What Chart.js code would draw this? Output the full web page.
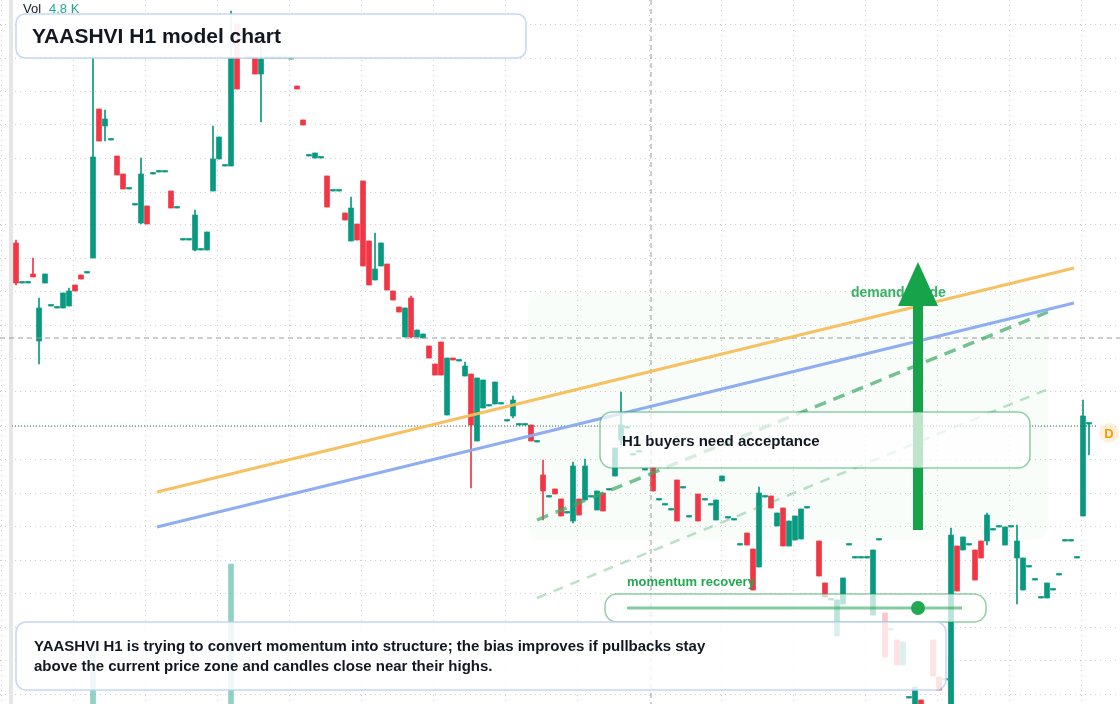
<!DOCTYPE html>
<html>
<head>
<meta charset="utf-8">
<script src="https://cdn.jsdelivr.net/npm/chart.js@4.4.1/dist/chart.umd.min.js"></script>
<style>
  html, body { margin: 0; padding: 0; background: #fff; }
  canvas { display: block; }
</style>
</head>
<body>
<canvas id="chart" width="1120" height="704"></canvas>
<script>
// Price levels are read in screen-level units (axis reversed: larger = lower)
// rows: [time, open, close, high, low]
const candleRows = [
  [16,243,283,240,285],[22,283,283],[28,283,283],[33,274,277,258,277],[39,341,308,298,364],
  [45,283,274],[51,306,306],[57,308,308],[63,308,293],[69,306,291,288,306],[75,285,291],
  [81,275,279],[87,273,273],[93,258,157,55,258],[99,109,141],[105,126,119,110,141],
  [111,140,140],[117,156,175],[123,174,189],[129,189,189],[135,205,205],[141,223,174,158,224],
  [147,206,224],[153,174,174],[159,172,172],[165,172,172],[171,191,208],[177,208,208],
  [183,240,240],[189,240,240],[195,250,215,210,251],[201,250,250],[207,250,232],
  [213,191,159,126,191],[219,159,137],[225,166,166],[231,166,57,11,166],[237,24,89],
  [243,40,40],[249,58,58],[255,58,74],[261,74,59,40,122],[267,58,58],[273,58,58],
  [279,58,58],[285,58,58],[291,59,59],[297,86,89],[303,120,125],[309,156,156],
  [315,158,153],[321,158,158],[327,176,207],[333,191,191],[339,191,191],[345,213,220],
  [351,241,208,197,241],[357,224,240],[363,181,266],[369,241,285],[375,280,269,233,280],
  [381,266,243],[387,264,290],[393,291,300],[399,307,312],[405,337,308],[411,298,337,296,338],
  [417,337,330],[423,338,334],[429,346,358],[435,364,375],[441,342,375],[447,415,358],
  [453,358,360],[459,361,361],[465,376,366,362,376],[471,374,425,374,488],[477,441,378],
  [483,408,380],[489,406,406],[495,404,382],[501,404,404],[507,421,421],[513,416,400,396,418],
  [519,425,425],[525,425,425],[531,425,441],[537,442,442],[543,475,491,460,520],
  [549,497,497],[555,489,494],[561,499,516],[567,513,513],[573,521,466,462,523],
  [579,499,515],[585,500,466,459,500],[591,497,497],[597,510,491],[603,493,511],
  [609,490,490],[615,476,448],[621,440,425,392,445],[627,428,428],[633,455,455],
  [639,452,452],[645,470,470],[653,467,491],[659,500,500],[665,505,505],[671,510,510],
  [677,480,521],[683,488,488],[689,517,517],[698,494,521],[705,500,500],[711,505,505],
  [716,520,500],[722,481,476],[728,518,518],[734,520,520],[740,545,545],[747,533,545],
  [753,549,590],[759,567,493,487,567],[765,497,497],[771,496,508],[777,526,513],
  [783,508,546],[789,546,521],[795,540,516],[801,539,509],[807,508,508],[819,541,576],
  [825,583,597],[831,600,600],[837,636,600],[843,604,578],[849,545,545],[855,558,558],
  [861,558,558],[867,558,558],[873,615,550],[879,540,540],[885,613,657],[891,630,630],
  [897,640,665],[903,665,642],[909,698,698],[915,704,687],[921,700,704],[933,640,676],
  [939,677,690],[945,680,680],[951,704,535,528,704],[957,546,591],[963,550,537],
  [969,545,545],[975,550,580],[981,541,558],[987,541,515,513,545],[993,530,530],
  [999,527,527],[1005,545,527],[1011,527,527],[1017,558,541,525,604],[1023,590,558],
  [1029,567,567],[1035,580,580],[1041,598,598],[1047,598,583],[1053,590,590],
  [1059,575,575],[1065,541,541],[1071,541,541],[1077,558,558],[1083,516,416,400,516],
  [1089,424,424,424,455]
];
const candleTime = candleRows.map(r => r[0]);
const candleOpen = candleRows.map(r => r[1]);
const candleClose = candleRows.map(r => r[2]);
const candleHigh = candleRows.map(r => r[3] !== undefined ? r[3] : Math.min(r[1], r[2]));
const candleLow = candleRows.map(r => r[4] !== undefined ? r[4] : Math.max(r[1], r[2]));

const volumeTime = [93, 231, 951];
const volumeTop = [650, 564, 660];

const orangeLine = [[157, 492], [1074, 268]];
const blueLine = [[157, 527], [1074, 303]];
const greenDash = [[537, 520], [1048, 312]];
const greenDashLight = [[537, 598], [1048, 389]];
const arrowLine = [[918, 530], [918, 300]];
const arrowTip = [918, 262];
const demandZone = { x0: 528, x1: 1048, y0: 292, y1: 540 };
const crossLevel = 338;
const crossTime = 651;
const lastLevel = 426;
const gridTimes = [37, 109, 181, 253, 325, 397, 469, 541, 613, 685, 757, 829, 901, 973, 1045];
const gridLevels = [24, 58, 91, 124, 158, 192, 224, 258, 291, 325, 358, 392, 426, 459, 493, 526, 560, 593, 627, 660, 694];

const UP = '#089981', DOWN = '#f23645';
const colors = candleOpen.map((o, i) => candleClose[i] <= o ? UP : DOWN);
const toXY = pts => pts.map(p => ({ x: p[0], y: p[1] }));

function roundRect(ctx, x, y, w, h, r, fill, stroke, lw) {
  ctx.beginPath();
  ctx.roundRect(x, y, w, h, r);
  ctx.fillStyle = fill; ctx.fill();
  ctx.strokeStyle = stroke; ctx.lineWidth = lw || 1.5; ctx.stroke();
}

const overlay = {
  id: 'overlay',
  beforeDatasetsDraw(chart) {
    const { ctx } = chart;
    const xs = chart.scales.x, ys = chart.scales.y;
    const x0 = xs.getPixelForValue(demandZone.x0), x1 = xs.getPixelForValue(demandZone.x1);
    const y0 = ys.getPixelForValue(demandZone.y0), y1 = ys.getPixelForValue(demandZone.y1);
    ctx.save();
    ctx.fillStyle = 'rgba(34,197,94,0.03)';
    ctx.beginPath(); ctx.roundRect(x0, y0, x1 - x0, y1 - y0, 14); ctx.fill();
    ctx.fillStyle = '#e6e6e6';
    ctx.fillRect(9, 0, 4, 704);
    ctx.restore();
  },
  afterDatasetsDraw(chart) {
    const { ctx } = chart;
    const xs = chart.scales.x, ys = chart.scales.y;
    ctx.save();
    const tx = xs.getPixelForValue(arrowTip[0]), ty = ys.getPixelForValue(arrowTip[1]);
    ctx.font = 'bold 14px "Liberation Sans", Arial, sans-serif';
    ctx.fillStyle = 'rgba(22,163,74,0.85)';
    ctx.textBaseline = 'middle';
    ctx.fillText('demand guide', 851, 293);
    ctx.fillStyle = '#16a34a';
    ctx.beginPath(); ctx.moveTo(tx, ty); ctx.lineTo(tx + 20, ty + 44); ctx.lineTo(tx - 20, ty + 44); ctx.closePath(); ctx.fill();

    // title
    ctx.font = '13px "Liberation Sans", Arial, sans-serif';
    ctx.fillStyle = '#131722'; ctx.fillText('Vol', 23, 9);
    ctx.fillStyle = '#26a69a'; ctx.fillText('4.8 K', 49, 9);
    roundRect(ctx, 16, 14, 510, 44, 9, 'rgba(255,255,255,0.93)', 'rgba(191,210,245,0.9)');
    ctx.fillStyle = '#131722';
    ctx.font = 'bold 21px "Liberation Sans", Arial, sans-serif';
    ctx.fillText('YAASHVI H1 model chart', 32, 37);

    // acceptance box
    roundRect(ctx, 600, 412, 430, 56, 12, 'rgba(255,255,255,0.72)', 'rgba(34,160,80,0.5)');
    ctx.fillStyle = '#131722';
    ctx.font = 'bold 15px "Liberation Sans", Arial, sans-serif';
    ctx.fillText('H1 buyers need acceptance', 622, 442);

    // momentum box
    ctx.font = 'bold 13px "Liberation Sans", Arial, sans-serif';
    ctx.fillStyle = '#22a852';
    ctx.fillText('momentum recovery', 627, 582);
    roundRect(ctx, 605, 594, 381, 28, 12, 'rgba(255,255,255,0.72)', 'rgba(34,160,80,0.5)');
    ctx.strokeStyle = 'rgba(34,160,80,0.55)'; ctx.lineWidth = 3;
    ctx.beginPath(); ctx.moveTo(627, 608); ctx.lineTo(962, 608); ctx.stroke();
    ctx.fillStyle = '#22a852';
    ctx.beginPath(); ctx.arc(918, 608, 7, 0, Math.PI * 2); ctx.fill();

    // bottom note
    roundRect(ctx, 16, 622, 930, 68, 10, 'rgba(255,255,255,0.85)', 'rgba(191,210,245,0.9)');
    ctx.fillStyle = '#131722';
    ctx.font = 'bold 15px "Liberation Sans", Arial, sans-serif';
    ctx.fillText('YAASHVI H1 is trying to convert momentum into structure; the bias improves if pullbacks stay', 34, 647);
    ctx.fillText('above the current price zone and candles close near their highs.', 34, 667);

    // last price marker
    ctx.fillStyle = 'rgba(255,152,0,0.15)';
    ctx.beginPath(); ctx.arc(1109, 433, 10, 0, Math.PI * 2); ctx.fill();
    ctx.fillStyle = '#ff9800';
    ctx.font = 'bold 13px "Liberation Sans", Arial, sans-serif';
    ctx.textAlign = 'center';
    ctx.fillText('D', 1109, 434);
    ctx.restore();
  }
};

const line = (data, color, width, dash, order) => ({
  type: 'line', data: toXY(data), borderColor: color, borderWidth: width,
  borderDash: dash || [], pointRadius: 0, fill: false, order: order
});

new Chart(document.getElementById('chart'), {
  type: 'bar',
  data: {
    datasets: [
      {
        data: volumeTime.map((t, i) => ({ x: t, y: [volumeTop[i], 704] })),
        backgroundColor: 'rgba(8,153,129,0.45)', barThickness: 5, grouped: false, order: 9
      },
      {
        data: candleTime.map((t, i) => ({ x: t, y: [candleHigh[i], candleLow[i]] })),
        backgroundColor: colors, barThickness: 1, grouped: false, minBarLength: 1, order: 8
      },
      {
        data: candleTime.map((t, i) => ({ x: t, y: [candleOpen[i], candleClose[i]] })),
        backgroundColor: colors, barThickness: 5, grouped: false, minBarLength: 1.5, order: 7
      },
      line([[0, crossLevel], [1120, crossLevel]], '#9a9a9a', 1, [5, 4], 6),
      line([[crossTime, 0], [crossTime, 704]], '#9a9a9a', 1, [5, 4], 6),
      line([[12, lastLevel], [1098, lastLevel]], '#1e6b5c', 1, [1, 2], 6),
      line(orangeLine, 'rgba(246,190,90,0.95)', 3, [], 5),
      line(blueLine, 'rgba(137,170,240,0.95)', 3, [], 5),
      line(greenDash, 'rgba(60,170,100,0.7)', 3.5, [12, 8], 5),
      line(greenDashLight, 'rgba(60,170,100,0.35)', 2.5, [10, 8], 5),
      line(arrowLine, '#16a34a', 10, [], 4)
    ]
  },
  options: {
    responsive: false,
    animation: false,
    layout: { padding: 0 },
    plugins: { legend: { display: false }, tooltip: { enabled: false } },
    scales: {
      x: {
        type: 'linear', min: 0, max: 1120, offset: false,
        afterBuildTicks: s => { s.ticks = gridTimes.map(v => ({ value: v })); },
        ticks: { display: false },
        border: { display: false, dash: [1, 4] },
        grid: { color: '#cfcfcf', drawTicks: false }
      },
      y: {
        type: 'linear', min: 0, max: 704, reverse: true,
        afterBuildTicks: s => { s.ticks = gridLevels.map(v => ({ value: v })); },
        ticks: { display: false },
        border: { display: false, dash: [1, 4] },
        grid: { color: '#cfcfcf', drawTicks: false }
      }
    }
  },
  plugins: [overlay]
});
</script>
</body>
</html>
